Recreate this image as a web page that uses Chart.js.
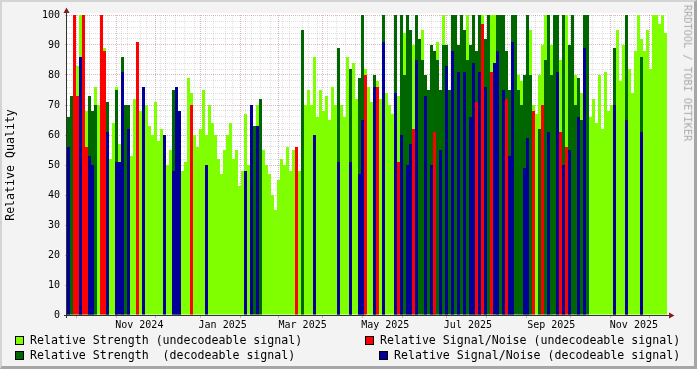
<!DOCTYPE html>
<html><head><meta charset="utf-8">
<script src="https://cdn.jsdelivr.net/npm/chart.js@4.4.1/dist/chart.umd.min.js"></script>
<style>
html,body{margin:0;padding:0;background:#f3f3f3;width:697px;height:369px;overflow:hidden;}
#frame{position:absolute;left:0;top:0;width:697px;height:369px;box-sizing:border-box;border-top:2px solid #d4d4d4;border-left:2px solid #d4d4d4;border-right:3px solid #a6a6a6;border-bottom:3px solid #a6a6a6;}
#c{position:absolute;left:0;top:0;}
.t{position:absolute;font-family:"DejaVu Sans Mono",monospace;white-space:pre;line-height:1;color:#000;}
.lg{font-size:11.6px;}
.box{position:absolute;width:7px;height:7px;border:1px solid #000;}
#ytitle{font-size:11.6px;left:11px;top:165px;transform:translate(-50%,-50%) rotate(-90deg);}
#wm{font-size:10.3px;color:#ababab;left:687.5px;top:73px;transform:translate(-50%,-50%) rotate(90deg);}
</style></head>
<body>
<div id="frame"></div>
<canvas id="c" width="697" height="369"></canvas>
<div class="t" id="ytitle">Relative Quality</div>
<div class="t" id="wm">RRDTOOL / TOBI OETIKER</div>
<div class="box" style="left:15px;top:336px;background:#80ff00"></div>
<div class="t lg" style="left:30px;top:335px">Relative Strength (undecodeable signal)</div>
<div class="box" style="left:365px;top:336px;background:#ff0000"></div>
<div class="t lg" style="left:380px;top:335px">Relative Signal/Noise (undecodeable signal)</div>
<div class="box" style="left:15px;top:351px;background:#006600"></div>
<div class="t lg" style="left:30px;top:350px">Relative Strength  (decodeable signal)</div>
<div class="box" style="left:379px;top:351px;background:#000099"></div>
<div class="t lg" style="left:394px;top:350px">Relative Signal/Noise (decodeable signal)</div>
<script>
// ---- time buckets (days relative to 1 Oct 2024) ----
const firstBinDay = -7.38;
const binDays = 2.214;

// ---- series values, one entry per time bucket ----
const strengthUndecodeable = [
51,56,86,83,100,100,68,68,65,76,
70,100,89,68,52,64,76,57,null,56,
null,53,72,70,68,68,70,63,60,71,
58,62,54,50,55,null,null,51,48,51,
79,74,60,56,62,75,60,70,64,60,
52,47,55,60,64,52,55,43,48,67,
50,45,60,70,60,55,50,47,40,35,
45,52,50,56,48,55,56,48,65,70,
75,70,86,66,75,68,73,65,76,70,
70,70,66,86,72,84,72,74,null,82,
76,71,72,78,72,null,74,70,67,null,
73,null,94,null,null,90,null,null,95,null,
null,null,null,91,null,100,null,null,null,null,
null,null,null,100,null,null,null,null,100,null,
null,100,100,null,null,null,null,null,null,null,
80,78,null,null,95,70,67,80,90,100,
null,90,null,null,85,null,100,null,null,80,
null,74,null,null,66,72,64,80,62,81,
68,70,88,95,78,90,null,82,74,88,
100,92,88,95,82,100,100,97,100,94
];
const strengthDecodeable = [
66,73,null,null,82,null,null,73,68,70,
null,null,null,71,null,null,75,null,86,70,
70,null,null,null,null,null,null,null,null,null,
null,null,null,null,null,75,60,54,null,null,
null,null,null,null,null,null,null,null,null,null,
null,null,null,null,null,null,null,null,null,null,
null,null,63,null,72,null,null,null,null,null,
null,null,null,null,null,null,null,null,95,null,
null,null,null,null,null,null,null,null,null,null,
89,null,null,null,82,null,null,79,100,null,
null,null,80,null,null,100,null,null,null,100,
null,100,80,100,95,null,100,92,85,80,
75,90,88,85,75,90,90,75,100,100,
90,100,95,85,90,100,88,100,null,92,
100,null,null,100,100,100,88,75,100,100,
75,70,80,100,80,null,null,62,null,85,
100,80,100,100,null,100,null,90,100,70,
79,65,100,100,null,null,null,null,null,null,
null,null,89,null,null,null,100,null,null,null,
null,86,null,null,null,null,null,null,null,null
];
const snrUndecodeable = [
null,null,100,73,null,100,56,null,null,null,
null,100,88,null,null,null,null,null,null,null,
null,null,null,91,null,null,null,null,null,null,
null,null,null,null,null,null,null,null,null,null,
null,70,null,null,null,null,null,null,null,null,
null,null,null,null,null,null,null,null,null,null,
null,null,null,null,null,null,null,null,null,null,
null,null,null,null,null,null,56,null,null,null,
null,null,null,null,null,null,null,null,null,null,
null,null,null,null,null,null,null,null,null,80,
null,null,null,76,null,null,null,null,null,null,
51,null,null,null,null,62,null,null,null,null,
null,null,61,null,null,null,null,null,null,null,
null,null,null,null,null,null,71,null,97,null,
null,81,null,null,null,null,72,null,null,null,
null,null,null,null,null,68,null,null,70,null,
null,null,null,null,61,null,56,null,null,null,
null,null,null,null,null,null,null,null,null,null,
null,null,null,null,null,null,null,null,null,null,
null,null,null,null,null,null,null,null,null,null
];
const snrDecodeable = [
56,null,null,null,86,null,null,53,50,null,
null,null,null,61,null,null,51,51,81,null,
62,null,null,null,null,76,null,null,null,null,
null,null,60,null,null,48,76,68,null,null,
null,null,null,null,null,null,50,null,null,null,
null,null,null,null,null,null,null,null,null,48,
null,70,null,63,null,null,null,null,null,null,
null,null,null,null,null,null,null,null,null,null,
null,null,60,null,null,null,null,null,null,null,
51,null,null,null,51,null,null,47,65,null,
null,null,76,null,null,91,null,null,null,74,
null,60,null,50,57,null,85,null,null,73,
null,50,null,null,55,null,83,null,88,null,
81,null,81,null,66,84,null,81,null,76,
null,null,84,88,null,75,null,53,91,null,
null,null,49,59,null,null,null,null,null,null,
61,null,null,81,null,50,null,55,null,null,
66,null,89,null,null,null,null,null,null,null,
null,null,70,null,null,null,65,null,null,null,
null,61,null,null,null,null,null,null,null,null
];

// ---- axis tick labels ----
const yTickLabels = ['0','10','20','30','40','50','60','70','80','90','100'];
const xTickLabels = ['Nov 2024','Jan 2025','Mar 2025','May 2025','Jul 2025','Sep 2025','Nov 2025'];
const xTickMonths = [10,12,14,16,18,20,22]; // months counted from Jan 2024

const DAY0 = Date.UTC(2024, 9, 1);
const dayOf = (m, d) => (Date.UTC(2024, m, d) - DAY0) / 864e5;
const xMin = firstBinDay;
const xMax = firstBinDay + strengthUndecodeable.length * binDays;

const xTicks = [];
for (let m = 8; m <= 24; m++) { const v = dayOf(m, 1); if (v >= xMin && v <= xMax) xTicks.push({value: v, kind: 'month'}); }
for (let v = dayOf(8, 30); v <= xMax; v += 7) {
  if (v >= xMin && !xTicks.some(t => Math.abs(t.value - v) < 0.01)) xTicks.push({value: v, kind: 'week'});
}
xTickLabels.forEach((lab, k) => {
  const m = xTickMonths[k];
  xTicks.push({value: (dayOf(m, 1) + dayOf(m + 1, 1)) / 2, kind: 'label', txt: lab});
});
xTicks.sort((a, b) => a.value - b.value);

const MAJ = 'rgba(130,30,30,0.30)';
const MIN = 'rgba(140,140,140,0.28)';

const pts = arr => arr.map((v, i) => ({x: firstBinDay + (i + 0.5) * binDays, y: v}));
const barDs = (label, arr, color, order) => ({
  label, data: pts(arr), backgroundColor: color, borderWidth: 0, order,
  grouped: false, barThickness: 3, inflateAmount: 0
});

const rrdFrame = {
  id: 'rrdFrame',
  beforeDraw(chart) {
    const {ctx, chartArea: a} = chart;
    ctx.save(); ctx.fillStyle = '#ffffff';
    ctx.fillRect(a.left, a.top - 2, a.right - a.left, a.bottom - a.top + 2);
    ctx.restore();
  },
  afterDraw(chart) {
    const {ctx, chartArea: a} = chart;
    ctx.save();
    ctx.strokeStyle = '#333333'; ctx.lineWidth = 1;
    ctx.beginPath(); ctx.moveTo(a.left - 0.5, a.top - 3); ctx.lineTo(a.left - 0.5, a.bottom + 3); ctx.stroke();
    ctx.beginPath(); ctx.moveTo(a.left - 3, a.bottom + 0.5); ctx.lineTo(a.right + 2, a.bottom + 0.5); ctx.stroke();
    ctx.fillStyle = '#7f1f1f';
    ctx.beginPath(); ctx.moveTo(a.left - 0.5, a.top - 7.5); ctx.lineTo(a.left - 3.5, a.top - 2); ctx.lineTo(a.left + 2.5, a.top - 2); ctx.closePath(); ctx.fill();
    ctx.beginPath(); ctx.moveTo(a.right + 7.5, a.bottom + 0.5); ctx.lineTo(a.right + 2, a.bottom - 2.5); ctx.lineTo(a.right + 2, a.bottom + 3.5); ctx.closePath(); ctx.fill();
    ctx.restore();
  }
};

new Chart(document.getElementById('c'), {
  type: 'bar',
  data: {
    datasets: [
      barDs('Relative Strength (undecodeable signal)', strengthUndecodeable, '#80ff00', 4),
      barDs('Relative Signal/Noise (undecodeable signal)', snrUndecodeable, '#ff0000', 2),
      barDs('Relative Strength  (decodeable signal)', strengthDecodeable, '#006600', 3),
      barDs('Relative Signal/Noise (decodeable signal)', snrDecodeable, '#000099', 1)
    ]
  },
  options: {
    responsive: false, animation: false, devicePixelRatio: 1,
    layout: {padding: {left: 0, top: 15, right: 30, bottom: 0}},
    plugins: {legend: {display: false}, tooltip: {enabled: false}},
    scales: {
      x: {
        type: 'linear', min: xMin, max: xMax, bounds: 'data', offset: false, z: 1,
        afterBuildTicks: s => { s.ticks = xTicks.map(t => ({value: t.value, kind: t.kind, txt: t.txt})); },
        afterFit: s => { s.height = 54; },
        ticks: {
          autoSkip: false, maxRotation: 0, minRotation: 0, padding: 1, color: '#000',
          font: {family: 'DejaVu Sans Mono', size: 10},
          callback: (v, i, ticks) => ticks[i] && ticks[i].kind === 'label' ? ticks[i].txt : ''
        },
        grid: {
          color: c => c.tick && c.tick.kind === 'month' ? MAJ : (c.tick && c.tick.kind === 'week' ? MIN : 'rgba(0,0,0,0)'),
          tickColor: c => c.tick && c.tick.kind === 'month' ? MAJ : 'rgba(0,0,0,0)',
          tickLength: 3, lineWidth: 1
        },
        border: {display: false, dash: [1, 1]}
      },
      y: {
        min: 0, max: 100, z: 1,
        afterFit: s => { s.width = 67; },
        ticks: {
          stepSize: 2, autoSkip: false, padding: 5, color: '#000',
          font: {family: 'DejaVu Sans Mono', size: 10},
          callback: v => v % 10 === 0 ? yTickLabels[v / 10] : ''
        },
        grid: {
          color: c => c.tick && c.tick.value % 10 === 0 ? MAJ : MIN,
          tickColor: c => c.tick && c.tick.value % 10 === 0 ? MAJ : 'rgba(0,0,0,0)',
          tickLength: 2, lineWidth: 1
        },
        border: {display: false, dash: [1, 1]}
      }
    }
  },
  plugins: [rrdFrame]
});
</script>
</body></html>
